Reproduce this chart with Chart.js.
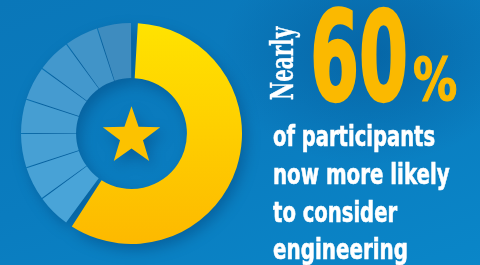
<!DOCTYPE html>
<html>
<head>
<meta charset="utf-8">
<script src="https://cdn.jsdelivr.net/npm/chart.js@4"></script>
<style>
  html, body { margin: 0; padding: 0; }
  #card {
    position: relative; width: 480px; height: 265px; overflow: hidden;
    background:
      radial-gradient(ellipse 150px 110px at 370px 55px, rgba(0,70,130,0.4), rgba(0,70,130,0) 100%),
      linear-gradient(160deg, #0a77b9 0%, #0a7cbf 50%, #0a86c8 100%);
  }
  #chartBox { position: absolute; left: 21px; top: 23px; width: 221px; height: 221px; }
  #ring { filter: drop-shadow(4px 6px 7px rgba(0, 45, 95, 0.35)); }
  .txt { position: absolute; white-space: nowrap; line-height: 1; font-weight: bold; }
  .line { color: #fff; font-family: 'Liberation Sans Narrow', 'DejaVu Sans Condensed', sans-serif; font-size: 29px; -webkit-text-stroke: 0.6px #fff; }
  #nearly { color: #fff; font-family: 'DejaVu Serif', serif; font-size: 31px; -webkit-text-stroke: 0.4px #fff; }
  #big, #pct { color: #fbb900; font-family: 'Liberation Sans Narrow', 'DejaVu Sans Condensed', sans-serif; }
  #big { font-size: 124px; -webkit-text-stroke: 2.5px #fbb900; }
  #pct { font-size: 58px; -webkit-text-stroke: 1.2px #fbb900; }
</style>
</head>
<body>
<div id="card">
  <div id="chartBox"><canvas id="ring"></canvas></div>
  <div class="txt" id="nearly">Nearly</div>
  <div class="txt" id="big">60</div>
  <div class="txt" id="pct">%</div>
  <div class="txt line" id="l1">of participants</div>
  <div class="txt line" id="l2">now more likely</div>
  <div class="txt line" id="l3">to consider</div>
  <div class="txt line" id="l4">engineering</div>
</div>
<script>
// share of participants, then the rest of the ring in equal blocks
const segmentLabels = ['More likely', 'Other', 'Other', 'Other', 'Other', 'Other', 'Other', 'Other', 'Other'];
const segmentValues = [60, 5, 5, 5, 5, 5, 5, 5, 5];

const blueShades = ['#49a4d8', '#48a2d6', '#47a0d4', '#469ed2', '#459bd0', '#4398cd', '#4194c8', '#3e8cbf'];

// put a text block at x / baseline and squeeze it to the wanted width
function fitText(id, x, baseline, width, rotate) {
    const el = document.getElementById(id);
    const probe = document.createElement('span');
    probe.style.cssText = 'display:inline-block;width:0;height:0;vertical-align:baseline';
    el.appendChild(probe);
    const base = probe.offsetTop;
    const s = width / el.offsetWidth;
    el.style.left = x + 'px';
    el.style.top = (baseline - base) + 'px';
    el.style.transformOrigin = '0 ' + base + 'px';
    el.style.transform = (rotate ? 'rotate(-90deg) ' : '') + 'scaleX(' + s + ')';
}

fitText('nearly', 293, 100, 73, true);
fitText('big', 310, 100, 98);
fitText('pct', 413, 100, 44);
fitText('l1', 273, 146, 162);
fitText('l2', 273, 184, 177);
fitText('l3', 273, 222, 124);
fitText('l4', 273, 259, 135);

const centerStar = {
    id: 'centerStar',
    afterDraw(chart) {
        const arc = chart.getDatasetMeta(0).data[0];
        const ctx = chart.ctx;
        const R = arc.innerRadius * 0.57;
        const r = R * 0.4;
        const cx = arc.x;
        const cy = arc.y + R * 0.1;
        ctx.save();
        ctx.beginPath();
        for (let i = 0; i < 10; i++) {
            const a = -Math.PI / 2 + i * Math.PI / 5;
            const rad = i % 2 === 0 ? R : r;
            const px = cx + Math.cos(a) * rad;
            const py = cy + Math.sin(a) * rad;
            if (i === 0) ctx.moveTo(px, py); else ctx.lineTo(px, py);
        }
        ctx.closePath();
        ctx.fillStyle = '#fcc200';
        ctx.fill();
        ctx.restore();
    }
};

function segmentColor(context) {
    if (context.dataIndex > 0) return blueShades[context.dataIndex - 1];
    const area = context.chart.chartArea;
    if (!area) return '#ffd200';
    const g = context.chart.ctx.createLinearGradient(0, area.top, 0, area.bottom);
    g.addColorStop(0, '#ffe300');
    g.addColorStop(1, '#fdb900');
    return g;
}

new Chart(document.getElementById('ring'), {
    type: 'doughnut',
    data: {
        labels: segmentLabels,
        datasets: [{
            data: segmentValues,
            backgroundColor: segmentColor,
            borderWidth: 0,
            spacing: 5
        }]
    },
    options: {
        responsive: true,
        maintainAspectRatio: false,
        animation: false,
        events: [],
        cutout: '49%',
        plugins: { legend: { display: false }, tooltip: { enabled: false } }
    },
    plugins: [centerStar]
});
</script>
</body>
</html>
